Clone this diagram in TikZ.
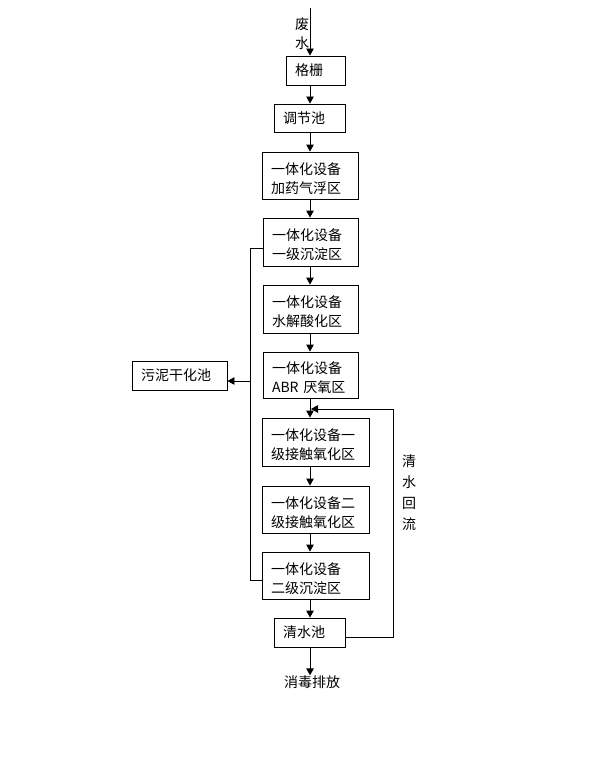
\documentclass[tikz,border=0pt]{standalone}
\usepackage{fontspec}
\setmainfont{Noto Sans CJK SC}
\usetikzlibrary{arrows.meta}
\newcommand\tsp{\rule{0pt}{18pt}}
\tikzset{
  box/.style={draw, line width=0.9pt, inner xsep=9pt, inner ysep=0pt, align=left,
    font=\fontsize{14}{19}\selectfont},
  arr/.style={line width=0.9pt, -{Triangle[length=7pt,width=7.5pt]}},
  ln/.style={line width=0.9pt},
  lbl/.style={inner sep=0pt, font=\fontsize{14}{19}\selectfont}
}
\begin{document}
\begin{tikzpicture}[x=1pt,y=-1pt]
\useasboundingbox (0,0) rectangle (608,781);
\node[box, minimum width=59pt, text width=41pt, minimum height=29pt] (geshan) at (315.5,70.5) {格栅};
\node[box, minimum width=71pt, text width=53pt, minimum height=28pt] (tiaojie) at (309.5,118) {调节池};
\node[box, minimum width=96pt, text width=78pt, minimum height=47pt] (jiayao) at (310,175.5) {\tsp 一体化设备\\加药气浮区};
\node[box, minimum width=95pt, text width=77pt, minimum height=48pt] (cd1) at (310.5,242) {\tsp 一体化设备\\一级沉淀区};
\node[box, minimum width=95pt, text width=77pt, minimum height=48pt] (shuijie) at (310.5,309) {\tsp 一体化设备\\水解酸化区};
\node[box, minimum width=95pt, text width=77pt, minimum height=46pt] (abr) at (310.5,375) {\tsp 一体化设备\\ABR 厌氧区};
\node[box, minimum width=95pt, text width=77pt, minimum height=29pt] (wuni) at (179.5,375.5) {污泥干化池};
\node[box, minimum width=107pt, text width=89pt, minimum height=48pt] (jc1) at (315.5,442) {\tsp 一体化设备一\\级接触氧化区};
\node[box, minimum width=107pt, text width=89pt, minimum height=47pt] (jc2) at (315.5,509.5) {\tsp 一体化设备二\\级接触氧化区};
\node[box, minimum width=107pt, text width=89pt, minimum height=47pt] (cd2) at (315.5,575.5) {\tsp 一体化设备\\二级沉淀区};
\node[box, minimum width=71pt, text width=53pt, minimum height=29pt] (qs) at (309.5,632.5) {清水池};
\node[lbl] (xd) at (312,682) {消毒排放};
\node[lbl] (fei) at (302,24) {废};
\node[lbl] (shui) at (302,43) {水};
\node[lbl, align=center, font=\fontsize{14}{21}\selectfont] (hl) at (409,493) {清\\水\\回\\流};
\coordinate (top) at (310,8);
\draw[arr] (top) -- (geshan.north -| top);
\draw[arr] (geshan.south -| top) -- (tiaojie.north -| top);
\draw[arr] (tiaojie.south -| top) -- (jiayao.north -| top);
\draw[arr] (jiayao.south -| top) -- (cd1.north -| top);
\draw[arr] (cd1.south -| top) -- (shuijie.north -| top);
\draw[arr] (shuijie.south -| top) -- (abr.north -| top);
\draw[arr] (abr.south -| top) -- (jc1.north -| top);
\draw[arr] (jc1.south -| top) -- (jc2.north -| top);
\draw[arr] (jc2.south -| top) -- (cd2.north -| top);
\draw[arr] (cd2.south -| top) -- (qs.north -| top);
\draw[arr] (qs.south -| top) -- (xd.north -| top);
\coordinate (L1) at (250,248);
\coordinate (L2) at (250,580);
\coordinate (L3) at (250,381);
\draw[ln] (cd1.west |- L1) -- (L1) -- (L2) -- (cd2.west |- L2);
\draw[arr] (L3) -- (wuni.east |- L3);
\coordinate (R1) at (393,637);
\coordinate (R2) at (393,409);
\coordinate (R3) at (311,409);
\draw[arr] (qs.east |- R1) -- (R1) -- (R2) -- (R3);
\end{tikzpicture}
\end{document}
